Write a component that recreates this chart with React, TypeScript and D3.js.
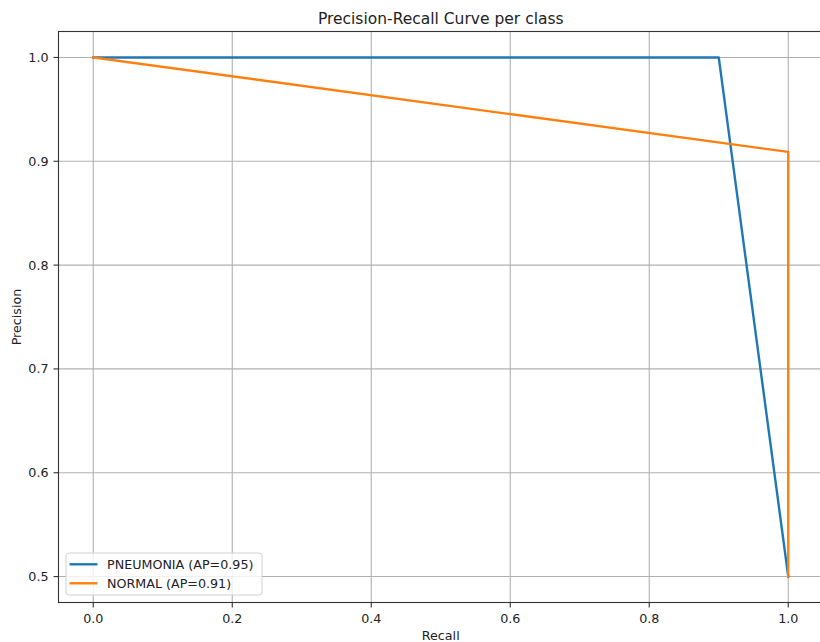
import React, { useEffect, useRef } from "react";
import * as d3 from "d3";

const pneumoniaRecall = [0.0, 0.9, 1.0];
const pneumoniaPrecision = [1.0, 1.0, 0.5];
const normalRecall = [0.0, 1.0, 1.0];
const normalPrecision = [1.0, 0.909, 0.5];
const seriesNames = ["PNEUMONIA (AP=0.95)", "NORMAL (AP=0.91)"];
const seriesColors = ["#1f77b4", "#ff7f0e"];
const xTicks = [0.0, 0.2, 0.4, 0.6, 0.8, 1.0];
const yTicks = [0.5, 0.6, 0.7, 0.8, 0.9, 1.0];

const W = 820;
const H = 642;
const FONT = "DejaVu Sans, sans-serif";

export default function App() {
  const ref = useRef<SVGSVGElement | null>(null);

  useEffect(() => {
    const svg = d3.select(ref.current);
    svg.selectAll("*").remove();

    const left = 58.5;
    const right = 823;
    const top = 31.5;
    const bottom = 602.5;

    const x = d3.scaleLinear().domain([-0.05, 1.05]).range([left, right]);
    const y = d3.scaleLinear().domain([0.475, 1.025]).range([bottom, top]);

    svg.append("rect").attr("width", W).attr("height", H).attr("fill", "#fff");

    // grid
    const g = svg.append("g");
    g.selectAll(".gx")
      .data(xTicks)
      .join("line")
      .attr("x1", (d) => x(d))
      .attr("x2", (d) => x(d))
      .attr("y1", top)
      .attr("y2", bottom)
      .attr("stroke", "#b0b0b0")
      .attr("stroke-width", 1.1);
    g.selectAll(".gy")
      .data(yTicks)
      .join("line")
      .attr("y1", (d) => y(d))
      .attr("y2", (d) => y(d))
      .attr("x1", left)
      .attr("x2", right)
      .attr("stroke", "#b0b0b0")
      .attr("stroke-width", 1.1);

    // lines
    const series = [
      pneumoniaRecall.map((r, i) => [r, pneumoniaPrecision[i]] as [number, number]),
      normalRecall.map((r, i) => [r, normalPrecision[i]] as [number, number]),
    ];
    const line = d3
      .line<[number, number]>()
      .x((d) => x(d[0]))
      .y((d) => y(d[1]));
    series.forEach((s, i) => {
      svg
        .append("path")
        .attr("d", line(s))
        .attr("fill", "none")
        .attr("stroke", seriesColors[i])
        .attr("stroke-width", 2.4)
        .attr("stroke-linejoin", "round")
        .attr("stroke-linecap", "square");
    });

    // spines
    svg
      .append("rect")
      .attr("x", left)
      .attr("y", top)
      .attr("width", right - left)
      .attr("height", bottom - top)
      .attr("fill", "none")
      .attr("stroke", "#333")
      .attr("stroke-width", 1.1);

    // ticks
    const xa = svg.append("g");
    xTicks.forEach((t) => {
      xa.append("line")
        .attr("x1", x(t))
        .attr("x2", x(t))
        .attr("y1", bottom)
        .attr("y2", bottom + 5)
        .attr("stroke", "#333")
        .attr("stroke-width", 1.1);
      xa.append("text")
        .attr("x", x(t))
        .attr("y", 623)
        .attr("text-anchor", "middle")
        .attr("font-family", FONT)
        .attr("font-size", 12.7)
        .attr("fill", "#222")
        .text(d3.format(".1f")(t));
    });
    yTicks.forEach((t) => {
      xa.append("line")
        .attr("x1", left - 5)
        .attr("x2", left)
        .attr("y1", y(t))
        .attr("y2", y(t))
        .attr("stroke", "#333")
        .attr("stroke-width", 1.1);
      xa.append("text")
        .attr("x", 48.5)
        .attr("y", y(t))
        .attr("dy", "0.36em")
        .attr("text-anchor", "end")
        .attr("font-family", FONT)
        .attr("font-size", 12.7)
        .attr("fill", "#222")
        .text(d3.format(".1f")(t));
    });

    // labels
    svg
      .append("text")
      .attr("x", (left + right) / 2)
      .attr("y", 24)
      .attr("text-anchor", "middle")
      .attr("font-family", FONT)
      .attr("font-size", 15.5)
      .attr("fill", "#222")
      .text("Precision-Recall Curve per class");
    svg
      .append("text")
      .attr("x", (left + right) / 2)
      .attr("y", 639.5)
      .attr("text-anchor", "middle")
      .attr("font-family", FONT)
      .attr("font-size", 12.7)
      .attr("fill", "#222")
      .text("Recall");
    svg
      .append("text")
      .attr("transform", `translate(21,${(top + bottom) / 2}) rotate(-90)`)
      .attr("text-anchor", "middle")
      .attr("font-family", FONT)
      .attr("font-size", 12.7)
      .attr("fill", "#222")
      .text("Precision");

    // legend
    const lg = svg.append("g");
    lg.append("rect")
      .attr("x", 66)
      .attr("y", 553)
      .attr("width", 196)
      .attr("height", 42)
      .attr("rx", 3)
      .attr("fill", "rgba(255,255,255,0.8)")
      .attr("stroke", "#d0d0d0")
      .attr("stroke-width", 1);
    seriesNames.forEach((name, i) => {
      const cy = 564.3 + i * 19;
      lg.append("line")
        .attr("x1", 69.5)
        .attr("x2", 97.5)
        .attr("y1", cy)
        .attr("y2", cy)
        .attr("stroke", seriesColors[i])
        .attr("stroke-width", 2.4);
      lg.append("text")
        .attr("x", 107)
        .attr("y", cy)
        .attr("dy", "0.36em")
        .attr("font-family", FONT)
        .attr("font-size", 12.7)
        .attr("fill", "#222")
        .text(name);
    });
  }, []);

  return (
    <svg
      ref={ref}
      width={W}
      height={H}
      style={{ position: "absolute", left: 0, top: 0, display: "block" }}
    />
  );
}
